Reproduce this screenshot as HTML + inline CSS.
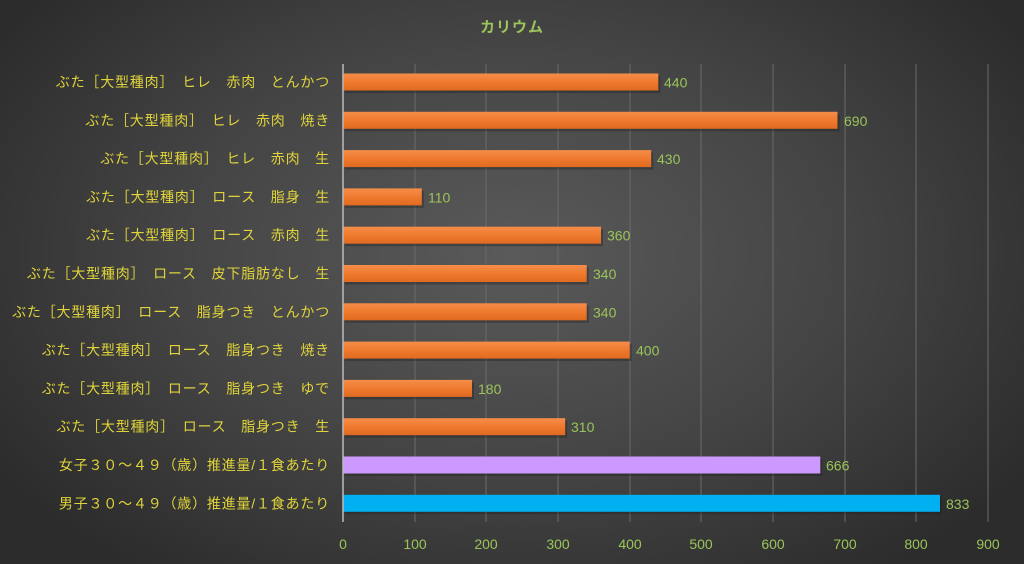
<!DOCTYPE html><html><head><meta charset="utf-8"><style>
html,body{margin:0;padding:0;width:1024px;height:564px;overflow:hidden;}
body{background:radial-gradient(ellipse 60% 70% at 50% 45%,#5a5a5a 0%,#444 55%,#2c2c2c 100%);}
svg{position:absolute;left:0;top:0;}
.l{font-family:"Liberation Sans","Noto Sans CJK JP",sans-serif;font-size:14px;letter-spacing:0.8px;fill:#e0d43a;}
.v{font-family:"Liberation Sans",sans-serif;font-size:14px;fill:#9bc45a;}
</style></head><body>
<svg width="1024" height="564" xmlns="http://www.w3.org/2000/svg">
<defs><linearGradient id="o" x1="0" y1="0" x2="0" y2="1"><stop offset="0" stop-color="#f58d4a"/><stop offset="0.5" stop-color="#ef7a2e"/><stop offset="1" stop-color="#e06a20"/></linearGradient></defs>
<text x="512" y="32" text-anchor="middle" font-family="Liberation Sans,Noto Sans CJK JP,sans-serif" font-size="15" font-weight="bold" letter-spacing="1" fill="#9bc45a">カリウム</text>
<g stroke="#6a6a6a" stroke-width="1">
<line x1="415" y1="64" x2="415" y2="522"/><line x1="486" y1="64" x2="486" y2="522"/><line x1="558" y1="64" x2="558" y2="522"/><line x1="630" y1="64" x2="630" y2="522"/><line x1="701" y1="64" x2="701" y2="522"/><line x1="773" y1="64" x2="773" y2="522"/><line x1="845" y1="64" x2="845" y2="522"/><line x1="916" y1="64" x2="916" y2="522"/><line x1="988" y1="64" x2="988" y2="522"/>
</g>
<g fill="#1e1e1e" opacity="0.35">
<rect x="345" y="76" width="315.3" height="17"/>
<rect x="345" y="114.3" width="494.5" height="17"/>
<rect x="345" y="152.6" width="308.2" height="17"/>
<rect x="345" y="190.9" width="78.8" height="17"/>
<rect x="345" y="229.2" width="258" height="17"/>
<rect x="345" y="267.5" width="243.7" height="17"/>
<rect x="345" y="305.8" width="243.7" height="17"/>
<rect x="345" y="344.1" width="286.7" height="17"/>
<rect x="345" y="382.4" width="129" height="17"/>
<rect x="345" y="420.7" width="222.2" height="17"/>
<rect x="345" y="459" width="477.3" height="17"/>
<rect x="345" y="497.3" width="597" height="17"/>
</g>
<g fill="url(#o)">
<rect x="343" y="73.5" width="315.3" height="17"/>
<rect x="343" y="111.8" width="494.5" height="17"/>
<rect x="343" y="150.1" width="308.2" height="17"/>
<rect x="343" y="188.4" width="78.8" height="17"/>
<rect x="343" y="226.7" width="258" height="17"/>
<rect x="343" y="265" width="243.7" height="17"/>
<rect x="343" y="303.3" width="243.7" height="17"/>
<rect x="343" y="341.6" width="286.7" height="17"/>
<rect x="343" y="379.9" width="129" height="17"/>
<rect x="343" y="418.2" width="222.2" height="17"/>
</g>
<rect x="343" y="456.5" width="477.3" height="17" fill="#cc99ff"/>
<rect x="343" y="494.8" width="597" height="17" fill="#00b0f0"/>
<line x1="343" y1="64" x2="343" y2="522" stroke="#bbb" stroke-width="1.5"/>
<g class="v">
<text x="664" y="87.5">440</text>
<text x="844" y="125.8">690</text>
<text x="657" y="164.1">430</text>
<text x="428" y="202.4">110</text>
<text x="607" y="240.7">360</text>
<text x="593" y="279">340</text>
<text x="593" y="317.3">340</text>
<text x="636" y="355.6">400</text>
<text x="478" y="393.9">180</text>
<text x="571" y="432.2">310</text>
<text x="826" y="470.5">666</text>
<text x="946" y="508.8">833</text>
</g>
<g class="l" text-anchor="end">
<text x="330" y="87">ぶた［大型種肉］　ヒレ　赤肉　とんかつ</text>
<text x="330" y="125.3">ぶた［大型種肉］　ヒレ　赤肉　焼き</text>
<text x="330" y="163.6">ぶた［大型種肉］　ヒレ　赤肉　生</text>
<text x="330" y="201.9">ぶた［大型種肉］　ロース　脂身　生</text>
<text x="330" y="240.2">ぶた［大型種肉］　ロース　赤肉　生</text>
<text x="330" y="278.5">ぶた［大型種肉］　ロース　皮下脂肪なし　生</text>
<text x="330" y="316.8">ぶた［大型種肉］　ロース　脂身つき　とんかつ</text>
<text x="330" y="355.1">ぶた［大型種肉］　ロース　脂身つき　焼き</text>
<text x="330" y="393.4">ぶた［大型種肉］　ロース　脂身つき　ゆで</text>
<text x="330" y="431.7">ぶた［大型種肉］　ロース　脂身つき　生</text>
<text x="330" y="470">女子３０～４９（歳）推進量/１食あたり</text>
<text x="330" y="508.3">男子３０～４９（歳）推進量/１食あたり</text>
</g>
<g class="v" text-anchor="middle">
<text x="343" y="549">0</text><text x="415" y="549">100</text><text x="486" y="549">200</text><text x="558" y="549">300</text><text x="630" y="549">400</text><text x="701" y="549">500</text><text x="773" y="549">600</text><text x="845" y="549">700</text><text x="916" y="549">800</text><text x="988" y="549">900</text>
</g>
</svg></body></html>
